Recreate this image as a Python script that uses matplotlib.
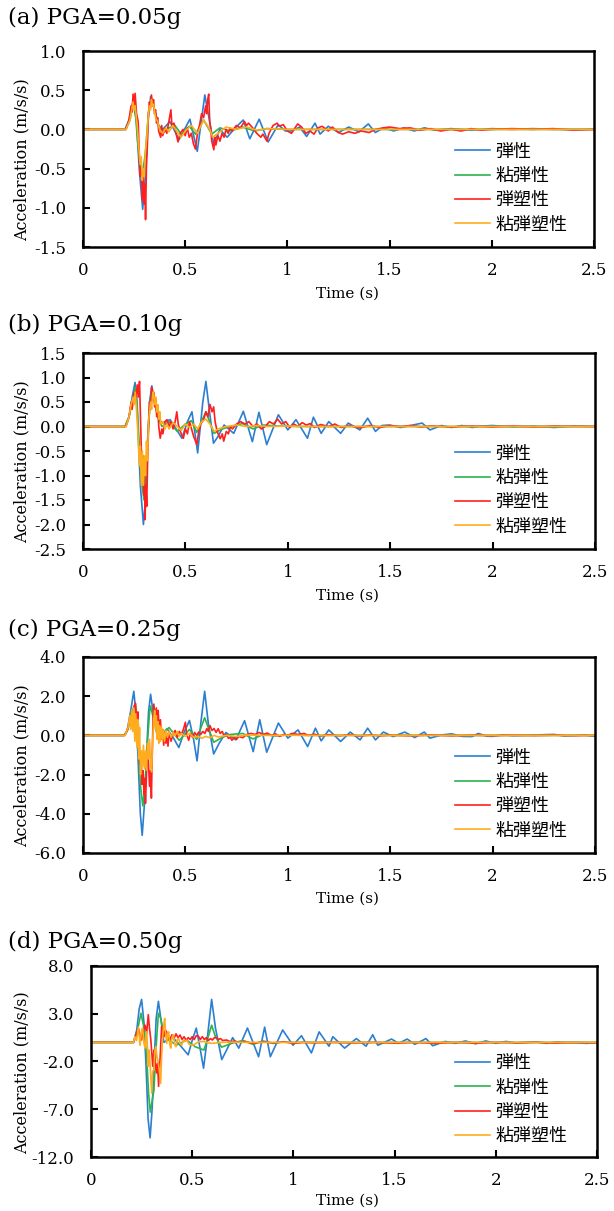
import matplotlib
matplotlib.use("Agg")
import matplotlib.pyplot as plt
import numpy as np

# (time [s], acceleration [m/s/s])
a_elastic = [(0, 0), (0.205, 0), (0.225, 0.12), (0.246, 0.37), (0.262, 0.1), (0.275, -0.5), (0.292, -1.02),
             (0.305, -0.6), (0.318, 0.1), (0.331, 0.42), (0.35, 0.25), (0.37, 0.05), (0.39, 0.0), (0.425, 0.1),
             (0.47, -0.13), (0.523, 0.13), (0.559, -0.28), (0.596, 0.44), (0.639, -0.18), (0.67, 0.0),
             (0.705, -0.1), (0.745, 0.02), (0.784, 0.12), (0.816, -0.12), (0.862, 0.13), (0.906, -0.16),
             (0.955, 0.06), (0.99, -0.02), (1.02, -0.02), (1.06, 0.03), (1.094, -0.09), (1.135, 0.08),
             (1.16, -0.06), (1.2, 0.04), (1.25, -0.04), (1.3, 0.03), (1.35, -0.03), (1.396, 0.07), (1.43, -0.04),
             (1.47, 0.02), (1.52, -0.02), (1.57, 0.02), (1.62, -0.02), (1.67, 0.02), (1.72, -0.01), (1.8, 0.01),
             (1.9, -0.01), (2.0, 0.01), (2.1, 0), (2.2, 0.01), (2.3, 0), (2.5, 0)]
a_visco = [(0, 0), (0.21, 0), (0.23, 0.12), (0.245, 0.35), (0.258, 0.15), (0.27, -0.25), (0.29, -0.6),
           (0.305, -0.3), (0.32, 0.2), (0.335, 0.4), (0.35, 0.25), (0.37, 0.05), (0.39, -0.05), (0.42, 0.02),
           (0.45, 0.05), (0.48, -0.06), (0.52, 0.04), (0.55, -0.06), (0.59, 0.12), (0.63, -0.06), (0.67, 0.02),
           (0.72, -0.02), (0.78, 0.03), (0.84, -0.02), (0.9, 0.01), (1.0, 0), (2.5, 0)]
a_plastic = [(0, 0), (0.21, 0), (0.225, 0.12), (0.235, 0.3), (0.24, 0.22), (0.245, 0.45), (0.25, 0.3),
             (0.255, 0.46), (0.262, 0.2), (0.27, 0.1), (0.275, -0.3), (0.28, -0.6), (0.285, -0.45), (0.29, -0.9),
             (0.295, -0.6), (0.3, -0.95), (0.303, -0.7), (0.306, -1.15), (0.31, -0.5), (0.315, -0.2), (0.32, 0.2),
             (0.325, 0.35), (0.33, 0.28), (0.335, 0.44), (0.34, 0.3), (0.345, 0.38), (0.35, 0.2), (0.355, 0.25),
             (0.36, 0.08), (0.365, 0.15), (0.37, -0.02), (0.38, -0.1), (0.385, 0.05), (0.39, -0.08), (0.4, 0.02),
             (0.41, -0.05), (0.42, 0.1), (0.43, 0.25), (0.435, 0.05), (0.445, 0.08), (0.455, -0.05),
             (0.465, -0.16), (0.475, -0.05), (0.49, 0.0), (0.5, -0.08), (0.51, 0.02), (0.52, -0.1),
             (0.53, -0.05), (0.54, -0.18), (0.55, -0.25), (0.56, -0.05), (0.57, 0.05), (0.58, 0.2), (0.59, 0.15),
             (0.6, 0.3), (0.605, 0.2), (0.61, 0.38), (0.615, 0.45), (0.62, 0.1), (0.625, 0.0), (0.63, -0.15),
             (0.64, -0.26), (0.645, -0.1), (0.65, -0.2), (0.66, -0.08), (0.67, -0.15), (0.68, -0.05),
             (0.69, -0.1), (0.7, 0.0), (0.71, -0.05), (0.72, 0.02), (0.73, -0.02), (0.75, 0.05), (0.77, 0.02),
             (0.79, 0.1), (0.8, 0.05), (0.81, 0.08), (0.83, 0.02), (0.85, -0.05), (0.87, -0.1), (0.88, -0.06),
             (0.9, -0.15), (0.91, -0.05), (0.93, 0.05), (0.95, 0.08), (0.96, 0.04), (0.98, 0.06), (1.0, -0.02),
             (1.02, -0.05), (1.05, 0.07), (1.07, 0.03), (1.09, -0.05), (1.11, -0.02), (1.13, -0.06), (1.15, 0.02),
             (1.17, 0.04), (1.2, -0.02), (1.22, 0.03), (1.25, -0.04), (1.27, -0.06), (1.3, -0.03), (1.33, -0.05),
             (1.36, -0.02), (1.4, -0.04), (1.43, 0.0), (1.47, 0.02), (1.5, 0.03), (1.55, 0.01), (1.6, 0.02),
             (1.65, -0.01), (1.7, 0.01), (1.75, -0.02), (1.8, 0.0), (1.85, -0.02), (1.9, 0.01), (1.95, -0.01),
             (2.0, 0.0), (2.1, 0.01), (2.2, 0.0), (2.3, 0.01), (2.4, -0.01), (2.5, 0)]
a_viscoplastic = [(0, 0), (0.21, 0), (0.23, 0.12), (0.245, 0.35), (0.25, 0.25), (0.255, 0.3), (0.265, 0.05),
                  (0.275, -0.3), (0.28, -0.45), (0.285, -0.35), (0.29, -0.65), (0.295, -0.5), (0.3, -0.6),
                  (0.305, -0.3), (0.312, -0.1), (0.32, 0.2), (0.325, 0.3), (0.33, 0.25), (0.335, 0.38),
                  (0.34, 0.3), (0.345, 0.32), (0.355, 0.15), (0.365, 0.1), (0.375, 0.0), (0.39, -0.05),
                  (0.405, 0.02), (0.42, -0.03), (0.44, 0.05), (0.46, -0.03), (0.48, -0.1), (0.5, -0.02),
                  (0.53, 0.05), (0.56, -0.05), (0.59, 0.12), (0.6, 0.08), (0.62, 0.0), (0.635, -0.1),
                  (0.66, -0.05), (0.7, 0.03), (0.75, 0.0), (0.8, 0.03), (0.85, -0.01), (0.9, 0.01), (1.0, 0),
                  (2.5, 0)]

b_elastic = [(0, 0), (0.205, 0), (0.225, 0.2), (0.24, 0.6), (0.254, 0.9), (0.262, 0.6), (0.27, -0.2),
             (0.28, -1.2), (0.295, -2.0), (0.305, -1.5), (0.315, -0.3), (0.325, 0.5), (0.336, 0.83), (0.35, 0.5),
             (0.365, 0.2), (0.385, 0.07), (0.425, 0.14), (0.455, -0.05), (0.483, -0.24), (0.51, 0.1),
             (0.532, 0.3), (0.56, -0.54), (0.585, 0.5), (0.6, 0.92), (0.615, 0.4), (0.637, -0.34), (0.66, -0.2),
             (0.689, 0.03), (0.736, -0.14), (0.783, 0.31), (0.827, -0.31), (0.859, 0.29), (0.897, -0.37),
             (0.954, 0.24), (1.0, -0.07), (1.04, 0.14), (1.096, -0.24), (1.125, 0.19), (1.163, -0.14),
             (1.2, 0.1), (1.258, -0.14), (1.295, 0.07), (1.352, -0.07), (1.39, 0.17), (1.428, -0.1), (1.46, 0.02),
             (1.495, 0.03), (1.55, -0.02), (1.6, 0.02), (1.656, 0.07), (1.694, -0.07), (1.75, 0.02),
             (1.8, -0.02), (1.85, 0.02), (1.9, -0.02), (1.95, 0.01), (2.0, 0.02), (2.1, -0.01), (2.2, 0.01),
             (2.3, -0.02), (2.4, 0.01), (2.5, 0)]
b_visco = [(0, 0), (0.205, 0), (0.225, 0.2), (0.24, 0.5), (0.255, 0.8), (0.265, 0.4), (0.275, -0.4),
           (0.285, -1.1), (0.298, -1.5), (0.31, -0.9), (0.32, 0.0), (0.33, 0.6), (0.338, 0.75), (0.35, 0.5),
           (0.365, 0.2), (0.385, 0.0), (0.42, 0.1), (0.46, -0.1), (0.5, 0.05), (0.53, 0.12), (0.555, -0.12),
           (0.6, 0.3), (0.64, -0.14), (0.68, -0.05), (0.72, 0.0), (0.78, 0.06), (0.83, -0.05), (0.88, 0.03),
           (0.95, 0.01), (1.05, 0), (2.5, 0)]
b_plastic = [(0, 0), (0.21, 0), (0.225, 0.2), (0.235, 0.5), (0.24, 0.35), (0.25, 0.7), (0.255, 0.5),
             (0.265, 0.85), (0.27, 0.6), (0.276, 0.92), (0.28, 0.3), (0.285, -0.5), (0.29, -1.0), (0.293, -0.6),
             (0.297, -1.4), (0.3, -0.9), (0.303, -1.9), (0.307, -1.2), (0.311, -1.63), (0.315, -0.8),
             (0.32, 0.0), (0.325, 0.5), (0.33, 0.35), (0.335, 0.8), (0.34, 0.55), (0.345, 0.7), (0.35, 0.4),
             (0.355, 0.55), (0.36, 0.2), (0.365, 0.35), (0.37, 0.0), (0.377, -0.24), (0.385, -0.05),
             (0.39, -0.15), (0.4, 0.1), (0.41, 0.14), (0.42, 0.0), (0.43, 0.1), (0.44, -0.05), (0.45, 0.1),
             (0.458, 0.3), (0.465, 0.05), (0.475, -0.1), (0.49, -0.24), (0.5, -0.05), (0.51, -0.15), (0.52, 0.1),
             (0.53, -0.05), (0.54, -0.2), (0.556, -0.37), (0.565, -0.1), (0.575, 0.05), (0.59, 0.15), (0.6, 0.3),
             (0.61, 0.2), (0.62, 0.45), (0.63, 0.3), (0.638, 0.4), (0.645, 0.1), (0.655, -0.1), (0.67, -0.25),
             (0.68, -0.15), (0.687, -0.3), (0.7, -0.1), (0.71, -0.15), (0.72, 0.0), (0.73, -0.05), (0.75, 0.05),
             (0.77, 0.1), (0.79, 0.05), (0.81, 0.1), (0.83, 0.0), (0.85, 0.05), (0.87, -0.05), (0.89, 0.0),
             (0.91, 0.1), (0.93, 0.05), (0.95, 0.15), (0.97, 0.05), (0.99, 0.1), (1.01, -0.02), (1.03, 0.05),
             (1.05, 0.0), (1.07, 0.08), (1.09, 0.03), (1.11, 0.06), (1.13, -0.02), (1.16, 0.04), (1.2, 0.0),
             (1.23, 0.05), (1.26, -0.02), (1.3, 0.02), (1.35, -0.03), (1.4, 0.02), (1.45, -0.02), (1.5, 0.02),
             (1.55, 0.0), (1.6, 0.02), (1.65, -0.01), (1.7, 0.01), (1.8, -0.01), (1.9, 0.01), (2.0, -0.01),
             (2.1, 0.01), (2.2, -0.01), (2.3, 0.01), (2.4, 0.0), (2.5, 0)]
b_viscoplastic = [(0, 0), (0.21, 0), (0.225, 0.2), (0.235, 0.45), (0.245, 0.6), (0.25, 0.45), (0.255, 0.7),
                  (0.26, 0.4), (0.265, 0.1), (0.27, -0.3), (0.275, -0.8), (0.28, -0.4), (0.285, -1.2),
                  (0.29, -0.5), (0.295, -1.2), (0.3, -0.6), (0.305, -1.0), (0.31, -0.3), (0.315, -0.7),
                  (0.32, 0.1), (0.325, 0.3), (0.33, 0.5), (0.335, 0.35), (0.34, 0.65), (0.344, 0.71),
                  (0.35, 0.45), (0.355, 0.6), (0.36, 0.3), (0.365, 0.45), (0.37, 0.15), (0.375, 0.3),
                  (0.38, 0.05), (0.39, 0.1), (0.4, -0.05), (0.41, 0.05), (0.42, -0.05), (0.44, 0.08), (0.46, 0.0),
                  (0.48, -0.08), (0.5, 0.05), (0.52, -0.02), (0.54, 0.05), (0.56, -0.05), (0.58, 0.1),
                  (0.6, 0.15), (0.62, 0.05), (0.64, -0.1), (0.66, -0.05), (0.7, 0.0), (0.75, 0.03), (0.8, 0.0),
                  (0.85, 0.02), (0.9, 0.0), (1.0, 0.01), (1.1, 0), (2.5, 0)]

c_elastic = [(0, 0), (0.2, 0), (0.215, 0.2), (0.232, 1.2), (0.248, 2.25), (0.26, 1.0), (0.27, -1.5),
             (0.28, -4.0), (0.289, -5.1), (0.3, -3.5), (0.31, -1.0), (0.32, 1.2), (0.33, 2.1), (0.345, 1.0),
             (0.36, 0.1), (0.375, -0.1), (0.41, 0.34), (0.44, -0.1), (0.468, -0.62), (0.495, 0.2), (0.52, 0.76),
             (0.54, -0.2), (0.557, -1.3), (0.575, 0.6), (0.594, 2.25), (0.612, 0.6), (0.638, -0.95),
             (0.665, -0.4), (0.698, 0.15), (0.746, -0.23), (0.789, 0.75), (0.831, -0.83), (0.863, 0.8),
             (0.897, -0.86), (0.954, 0.63), (1.0, -0.14), (1.05, 0.28), (1.097, -0.57), (1.135, 0.37),
             (1.163, -0.28), (1.2, 0.28), (1.258, -0.31), (1.305, 0.17), (1.353, -0.23), (1.39, 0.37),
             (1.428, -0.23), (1.467, 0.17), (1.514, -0.06), (1.571, 0.17), (1.62, -0.11), (1.666, 0.17),
             (1.694, -0.14), (1.75, 0.02), (1.8, 0.08), (1.85, -0.05), (1.9, -0.06), (1.93, 0.1), (1.97, -0.04),
             (2.0, -0.05), (2.05, 0.03), (2.1, -0.02), (2.2, 0.02), (2.3, 0.05), (2.35, -0.03), (2.45, 0.02),
             (2.5, -0.05)]
c_visco = [(0, 0), (0.2, 0), (0.22, 0.3), (0.238, 1.2), (0.256, 1.6), (0.268, 0.2), (0.28, -2.5), (0.292, -3.6),
           (0.303, -2.5), (0.315, -0.3), (0.325, 1.2), (0.33, 1.5), (0.345, 0.8), (0.37, -0.1), (0.42, 0.4),
           (0.47, -0.25), (0.52, 0.3), (0.555, -0.2), (0.594, 0.9), (0.638, -0.35), (0.68, -0.1), (0.72, 0.05),
           (0.78, 0.1), (0.83, -0.18), (0.88, 0.05), (0.94, -0.03), (1.0, 0.02), (1.1, 0), (2.5, 0)]
c_plastic = [(0, 0), (0.205, 0), (0.22, 0.4), (0.228, 0.8), (0.234, 0.5), (0.24, 1.2), (0.245, 0.9),
             (0.25, 1.5), (0.256, 1.64), (0.262, 0.7), (0.268, 1.2), (0.273, -0.5), (0.278, -1.5), (0.283, -0.8),
             (0.288, -2.5), (0.293, -1.8), (0.298, -3.0), (0.302, -2.2), (0.305, -3.47), (0.31, -2.0),
             (0.315, -0.5), (0.32, -1.5), (0.325, -2.6), (0.33, -1.8), (0.334, -3.2), (0.338, -1.0),
             (0.342, 0.8), (0.346, 1.6), (0.352, 0.9), (0.358, 1.4), (0.363, 0.6), (0.367, 1.27), (0.372, 0.3),
             (0.378, 0.8), (0.384, -0.2), (0.389, 0.3), (0.394, -0.5), (0.4, 0.0), (0.405, -0.4), (0.41, 0.1),
             (0.415, -0.55), (0.42, 0.2), (0.43, -0.3), (0.44, 0.1), (0.45, 0.25), (0.46, -0.1), (0.47, 0.2),
             (0.48, 0.05), (0.49, 0.3), (0.5, 0.67), (0.505, 0.1), (0.516, -0.25), (0.525, 0.1), (0.535, -0.1),
             (0.545, 0.15), (0.555, 0.0), (0.565, 0.17), (0.575, 0.05), (0.585, 0.2), (0.595, 0.1),
             (0.605, 0.35), (0.612, 0.2), (0.62, 0.5), (0.63, 0.25), (0.64, 0.35), (0.65, 0.15), (0.66, 0.34),
             (0.67, 0.1), (0.68, 0.2), (0.69, -0.05), (0.7, 0.05), (0.71, -0.15), (0.72, -0.1), (0.727, -0.25),
             (0.74, -0.1), (0.75, -0.2), (0.76, -0.05), (0.78, -0.12), (0.8, 0.05), (0.82, 0.1), (0.84, 0.05),
             (0.86, 0.15), (0.88, 0.05), (0.9, 0.12), (0.92, 0.0), (0.94, 0.08), (0.96, -0.05), (0.98, 0.05),
             (1.0, 0.0), (1.02, 0.1), (1.05, 0.05), (1.08, 0.1), (1.1, 0.0), (1.13, 0.06), (1.16, -0.03),
             (1.2, 0.04), (1.25, -0.02), (1.3, 0.03), (1.35, -0.03), (1.4, 0.02), (1.45, -0.02), (1.5, 0.01),
             (1.6, -0.02), (1.7, 0.02), (1.8, -0.02), (1.9, 0.01), (2.0, -0.01), (2.1, 0.01), (2.2, -0.01),
             (2.3, 0.01), (2.4, -0.01), (2.5, 0)]
c_viscoplastic = [(0, 0), (0.205, 0), (0.22, 0.4), (0.228, 1.0), (0.233, 0.3), (0.238, 1.3), (0.243, 0.2),
                  (0.248, 1.4), (0.253, -0.3), (0.258, 1.1), (0.263, -0.6), (0.267, 0.8), (0.272, -1.2),
                  (0.276, 0.4), (0.281, -2.0), (0.285, -0.8), (0.29, -1.6), (0.295, -0.5), (0.3, -1.7),
                  (0.305, -0.8), (0.31, -1.77), (0.315, -0.4), (0.32, -1.2), (0.325, -0.2), (0.33, -1.5),
                  (0.335, -1.86), (0.34, -0.3), (0.345, 0.8), (0.35, 1.27), (0.354, 0.3), (0.358, 1.0),
                  (0.362, -0.2), (0.366, 0.7), (0.37, -0.4), (0.374, 0.5), (0.378, -0.3), (0.383, 0.4),
                  (0.388, -0.2), (0.393, 0.3), (0.398, -0.3), (0.405, 0.25), (0.412, -0.1), (0.42, 0.2),
                  (0.43, -0.1), (0.44, 0.15), (0.45, 0.0), (0.46, 0.2), (0.47, -0.05), (0.48, 0.1), (0.5, -0.05),
                  (0.52, 0.1), (0.54, -0.1), (0.56, -0.05), (0.58, -0.15), (0.6, -0.05), (0.62, -0.12),
                  (0.64, 0.0), (0.66, -0.08), (0.7, 0.0), (0.75, -0.05), (0.8, 0.02), (0.9, 0.0), (1.0, 0.01),
                  (1.1, 0), (2.5, 0)]

d_elastic = [(0, 0), (0.21, 0), (0.226, 1.3), (0.238, 3.5), (0.25, 4.5), (0.262, 2.0), (0.272, -2.5),
             (0.282, -8.0), (0.292, -10.0), (0.302, -7.0), (0.312, -2.0), (0.322, 2.5), (0.333, 4.3),
             (0.345, 2.5), (0.36, 0.0), (0.38, 0.3), (0.4, 0.6), (0.44, -0.3), (0.48, -1.3), (0.5, 0.2),
             (0.52, 1.5), (0.538, -0.5), (0.556, -2.7), (0.575, 0.5), (0.596, 4.5), (0.615, 1.5), (0.646, -1.8),
             (0.67, -0.8), (0.7, 0.5), (0.73, -0.6), (0.773, 1.5), (0.828, -1.5), (0.858, 1.6), (0.886, -1.5),
             (0.947, 1.3), (0.998, -0.3), (1.04, 0.7), (1.089, -1.1), (1.127, 1.1), (1.176, -0.4), (1.195, 0.6),
             (1.253, -0.6), (1.311, 0.4), (1.359, -0.4), (1.392, 0.8), (1.417, -0.3), (1.485, 0.35),
             (1.52, -0.1), (1.562, 0.35), (1.6, -0.2), (1.655, 0.4), (1.688, -0.35), (1.75, 0.1), (1.8, -0.1),
             (1.85, 0.15), (1.9, -0.15), (1.95, 0.15), (2.0, -0.1), (2.05, 0.1), (2.1, -0.05), (2.2, 0.05),
             (2.25, -0.1), (2.3, 0.05), (2.4, -0.05), (2.45, -0.1), (2.5, 0)]
d_visco = [(0, 0), (0.21, 0), (0.225, 0.8), (0.247, 3.05), (0.262, 1.5), (0.275, -1.5), (0.285, -5.5),
           (0.293, -7.3), (0.303, -6.0), (0.311, -5.0), (0.32, -1.0), (0.333, 3.05), (0.345, 2.5), (0.357, 1.1),
           (0.382, 0.25), (0.423, -0.27), (0.473, 0.25), (0.514, -0.45), (0.558, -0.8), (0.575, 0.3),
           (0.596, 1.8), (0.615, 0.6), (0.645, -0.5), (0.695, -0.1), (0.75, 0.2), (0.8, -0.2), (0.85, 0.15),
           (0.9, -0.1), (0.95, 0.05), (1.0, 0.0), (1.1, 0.02), (1.2, 0), (2.5, 0)]
d_plastic = [(0, 0), (0.21, 0), (0.22, 0.6), (0.234, 1.5), (0.242, 0.8), (0.25, 0.25), (0.258, 1.2),
             (0.267, 1.8), (0.275, 1.0), (0.283, 2.9), (0.289, 1.5), (0.295, 0.4), (0.3, -1.0), (0.305, -2.5),
             (0.311, -0.8), (0.317, -2.0), (0.324, -3.2), (0.329, -2.2), (0.334, -4.6), (0.341, -1.8),
             (0.349, 1.65), (0.355, 0.8), (0.36, 0.6), (0.367, 1.3), (0.374, 1.1), (0.38, 0.5), (0.39, 0.25),
             (0.4, 0.8), (0.41, 0.4), (0.42, 0.9), (0.43, 0.5), (0.44, 0.77), (0.45, 0.3), (0.46, 0.6),
             (0.47, 0.2), (0.48, 0.5), (0.49, 0.3), (0.5, 0.6), (0.51, 0.3), (0.52, 0.7), (0.53, 0.67),
             (0.54, 0.3), (0.55, 0.6), (0.56, 0.3), (0.57, 0.5), (0.58, 0.2), (0.59, 0.4), (0.6, 0.25),
             (0.61, 0.5), (0.62, 0.5), (0.63, 0.3), (0.64, 0.4), (0.65, 0.2), (0.67, 0.25), (0.69, 0.05),
             (0.71, 0.15), (0.73, 0.0), (0.76, 0.1), (0.8, -0.1), (0.85, 0.05), (0.9, -0.05), (0.95, 0.05),
             (1.0, -0.1), (1.05, 0.0), (1.1, -0.05), (1.2, 0.0), (1.3, -0.05), (1.4, 0.0), (1.5, -0.08),
             (1.6, 0.0), (1.7, -0.1), (1.8, 0.0), (1.9, -0.08), (2.0, 0.0), (2.1, -0.05), (2.2, 0.0),
             (2.3, -0.08), (2.4, 0.0), (2.5, -0.05)]
d_viscoplastic = [(0, 0), (0.21, 0), (0.217, 0.6), (0.225, 0.2), (0.234, 1.6), (0.242, -0.3), (0.25, 1.2),
                  (0.255, 1.5), (0.261, 0.0), (0.267, -0.6), (0.271, 0.6), (0.275, 1.1), (0.279, -0.5),
                  (0.283, -2.5), (0.287, -0.8), (0.29, -1.5), (0.295, -3.5), (0.3, -5.3), (0.305, -3.0),
                  (0.311, -2.9), (0.315, -1.0), (0.32, -0.45), (0.326, -1.5), (0.333, -2.2), (0.338, -3.0),
                  (0.344, -4.3), (0.349, -1.5), (0.354, 0.6), (0.359, 1.8), (0.364, 2.5), (0.369, 0.8),
                  (0.374, -0.1), (0.379, 0.9), (0.384, 1.1), (0.389, -0.2), (0.394, -0.6), (0.4, 0.5),
                  (0.407, 0.8), (0.413, -0.2), (0.42, -0.45), (0.426, 0.3), (0.433, 0.4), (0.44, -0.1),
                  (0.448, -0.3), (0.455, 0.2), (0.462, 0.1), (0.473, 0.25), (0.485, -0.2), (0.505, -0.3),
                  (0.53, 0.05), (0.555, 0.1), (0.58, -0.05), (0.6, -0.1), (0.64, 0.0), (0.7, 0.02), (0.8, 0.0),
                  (2.5, 0)]

titles = ["(a) PGA=0.05g", "(b) PGA=0.10g", "(c) PGA=0.25g", "(d) PGA=0.50g"]
series_names = ["弾性", "粘弾性", "弾塑性", "粘弾塑性"]
panels = [
    [a_elastic, a_visco, a_plastic, a_viscoplastic],
    [b_elastic, b_visco, b_plastic, b_viscoplastic],
    [c_elastic, c_visco, c_plastic, c_viscoplastic],
    [d_elastic, d_visco, d_plastic, d_viscoplastic],
]
yticks = [
    [-1.5, -1.0, -0.5, 0.0, 0.5, 1.0],
    [-2.5, -2.0, -1.5, -1.0, -0.5, 0.0, 0.5, 1.0, 1.5],
    [-6.0, -4.0, -2.0, 0.0, 2.0, 4.0],
    [-12.0, -7.0, -2.0, 3.0, 8.0],
]
xticks = [0, 0.5, 1, 1.5, 2, 2.5]
xtick_labels = ["0", "0.5", "1", "1.5", "2", "2.5"]

colors = ["#2b7fd0", "#2db34f", "#ff1f1f", "#ffad1f"]
serif = "DejaVu Serif"
cjk = "Noto Sans CJK JP"

W, H = 614, 1211
# pixel boxes (left, top, right, bottom) of the plot areas
boxes = [(83, 51, 594, 247), (83, 353, 595, 549), (83, 657, 595, 853), (91, 966, 597, 1157)]
title_y = [18, 325, 630, 942]
xlabel_y = [294, 596, 899, 1201]

fig = plt.figure(figsize=(W / 100, H / 100), dpi=100)

for i, (l, t, r, b) in enumerate(boxes):
    ax = fig.add_axes([l / W, 1 - b / H, (r - l) / W, (b - t) / H])
    for data, c, name in zip(panels[i], colors, series_names):
        arr = np.array(data)
        ax.plot(arr[:, 0], arr[:, 1], color=c, lw=1.2, label=name)
    ax.set_xlim(0, 2.5)
    ax.set_ylim(yticks[i][0], yticks[i][-1])
    ax.set_xticks(xticks, labels=xtick_labels)
    ax.set_yticks(yticks[i], labels=[f"{v:.1f}" for v in yticks[i]])
    ax.tick_params(direction="in", length=5, width=1.5, labelsize=12, top=False, right=False)
    ax.tick_params(axis="x", pad=11)
    ax.tick_params(axis="y", pad=12)
    for lab in ax.get_xticklabels() + ax.get_yticklabels():
        lab.set_family(serif)
    for s in ax.spines.values():
        s.set_linewidth(1.8)

    fig.text(8 / W, 1 - title_y[i] / H, titles[i], ha="left", va="center",
             fontsize=16.5, family=serif)
    fig.text(22 / W, 1 - ((t + b) / 2 + 11) / H, "Acceleration (m/s/s)", rotation=90,
             ha="center", va="center", fontsize=11.5, family=serif)
    fig.text(347 / W, 1 - xlabel_y[i] / H, "Time (s)", ha="center", va="center",
             fontsize=11, family=serif)

    ax.legend(loc="center left", bbox_to_anchor=((455 - l) / (r - l), 0.30), frameon=False,
              borderpad=0, borderaxespad=0, handlelength=1.95, handletextpad=0.3,
              labelspacing=0.35, prop={"family": cjk, "size": 13})

fig.savefig("out.png", dpi=100)
